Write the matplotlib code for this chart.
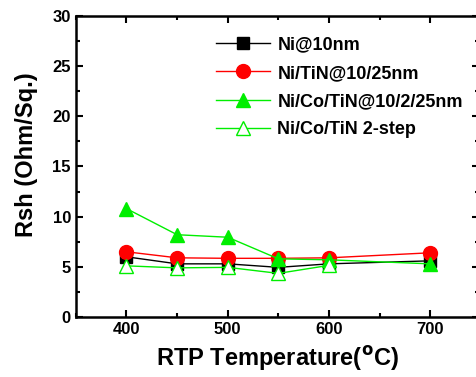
import matplotlib
matplotlib.use("Agg")
import matplotlib.pyplot as plt
from matplotlib.ticker import MultipleLocator

plt.rcParams['font.family'] = ['Liberation Sans', 'DejaVu Sans']
plt.rcParams['font.weight'] = 'bold'

temps = [400, 450, 500, 550, 600, 700]
ni = [6.0, 5.3, 5.3, 4.95, 5.3, 5.6]
ni_tin = [6.5, 5.9, 5.85, 5.85, 5.9, 6.4]
ni_co_tin = [10.8, 8.2, 7.95, 5.8, 5.7, 5.3]
temps_2step = [400, 450, 500, 550, 600]
ni_co_tin_2step = [5.1, 4.9, 4.95, 4.35, 5.15]

green = "#00ee00"

fig = plt.figure(figsize=(4.77, 3.77), dpi=100)
ax = fig.add_axes([0.159, 0.159, 0.845, 0.799])

ax.plot(temps, ni, color="black", lw=1, marker="s", ms=9, mec="black", mfc="black", label="Ni@10nm")
ax.plot(temps, ni_tin, color="red", lw=1, marker="o", ms=10, mec="red", mfc="red", label="Ni/TiN@10/25nm")
ax.plot(temps, ni_co_tin, color=green, lw=1, marker="^", ms=10.5, mec=green, mfc=green, label="Ni/Co/TiN@10/2/25nm")
ax.plot(temps_2step, ni_co_tin_2step, color=green, lw=1, marker="^", ms=10.5, mec=green, mfc="white",
        mew=1, label="Ni/Co/TiN 2-step")

ax.set_xlim(350, 748)
ax.set_ylim(0, 30)
ax.xaxis.set_major_locator(MultipleLocator(100))
ax.xaxis.set_minor_locator(MultipleLocator(50))
ax.yaxis.set_major_locator(MultipleLocator(5))
ax.yaxis.set_minor_locator(MultipleLocator(2.5))
ax.tick_params(which="both", direction="in", top=True, right=True, width=1.5, labelsize=12)
ax.tick_params(which="major", length=5)
ax.tick_params(which="minor", length=3)
for s in ax.spines.values():
    s.set_linewidth(1.8)

ax.set_xlabel("RTP Temperature($^{\\rm o}$C)", fontsize=17, fontweight="bold", labelpad=5)
ax.set_ylabel("Rsh (Ohm/Sq.)", fontsize=17, fontweight="bold")
ax.yaxis.set_label_coords(-0.095, 0.54)

leg = ax.legend(loc="upper left", bbox_to_anchor=(0.33, 0.955), frameon=False, fontsize=13,
                handlelength=3.0, labelspacing=0.62, handletextpad=0.4, borderaxespad=0)
for t in leg.get_texts():
    t.set_fontweight("bold")

fig.savefig("out.png", dpi=100)
